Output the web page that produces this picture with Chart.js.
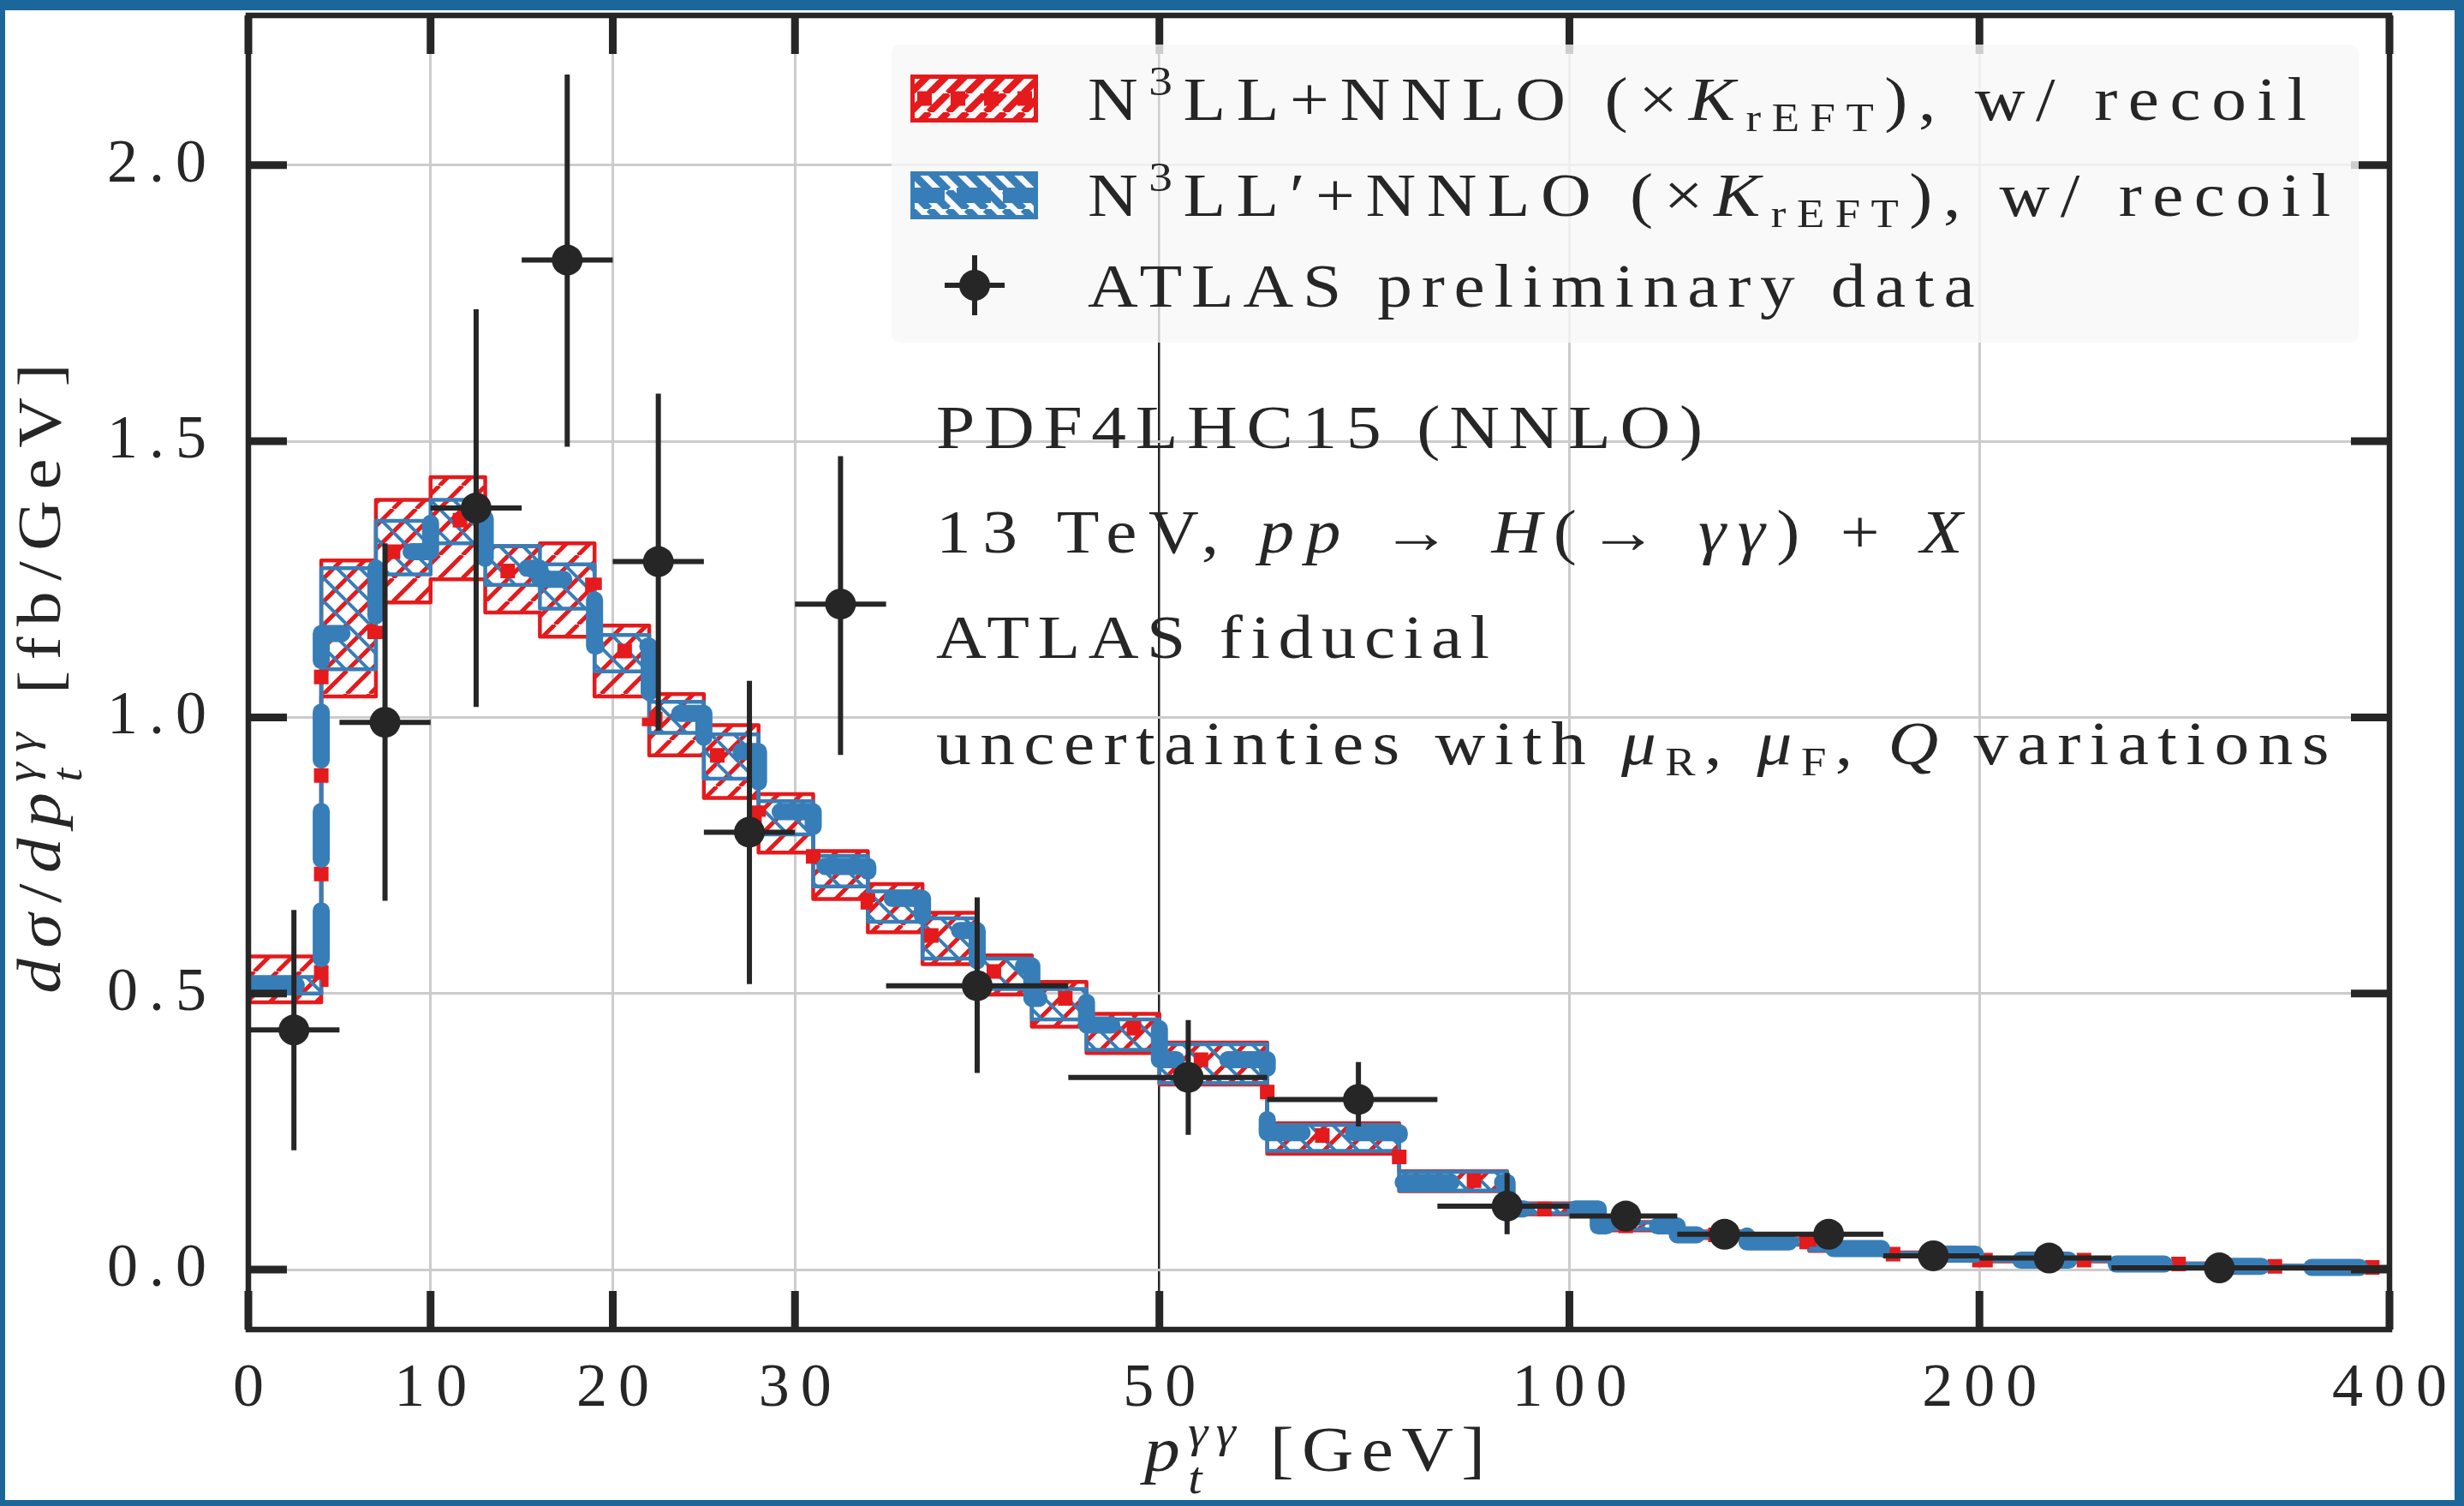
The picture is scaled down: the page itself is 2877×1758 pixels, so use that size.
<!DOCTYPE html>
<html>
<head>
<meta charset="utf-8">
<title>H to diphoton pT spectrum</title>
<script src="https://cdn.jsdelivr.net/npm/chart.js@4/dist/chart.umd.min.js"></script>
<style>
html, body { margin: 0; padding: 0; background: #fff; }
#page { position: relative; width: 2877px; height: 1758px; overflow: hidden;
        font-family: 'Liberation Serif', 'DejaVu Serif', serif; color: #262626; }
#chart { position: absolute; left: 0; top: 0; }
.txt { position: absolute; white-space: nowrap; line-height: 1.2; font-size: 72px; transform-origin: 0 0; }
.txt i { font-style: italic; }
.sup { font-size: 0.68em; vertical-align: 0.6em; }
.sub { font-size: 0.65em; vertical-align: -0.28em; }
.ss { display: inline-flex; flex-direction: column; font-size: 0.7em; line-height: 1.05; vertical-align: 0.55em; }
#legend { position: absolute; left: 1041px; top: 52px; width: 1713px; height: 348px;
          background: rgba(247, 247, 247, 0.8); border-radius: 10px; }
.swatch { position: absolute; }
#edge { position: absolute; left: 0; top: 0; width: 2877px; height: 1758px; box-sizing: border-box;
        border-style: solid; border-color: #1b679a; border-width: 12px 11px 7px 6px; pointer-events: none; }
</style>
</head>
<body>
<div id="page">
  <canvas id="chart" width="2877" height="1758"></canvas>

  <div id="legend"></div>
  <canvas class="swatch" id="sw-red" width="149" height="56" style="left:1063px;top:87px"></canvas>
  <canvas class="swatch" id="sw-blue" width="149" height="56" style="left:1063px;top:200px"></canvas>
  <canvas class="swatch" id="sw-data" width="90" height="90" style="left:1093px;top:288px"></canvas>
  <div class="txt" id="leg1">N<span class="sup">3</span>LL+NNLO (×<i>K</i><span class="sub">rEFT</span>), w/ recoil</div>
  <div class="txt" id="leg2">N<span class="sup">3</span>LL′+NNLO (×<i>K</i><span class="sub">rEFT</span>), w/ recoil</div>
  <div class="txt" id="leg3">ATLAS preliminary data</div>

  <div class="txt" id="ann1">PDF4LHC15 (NNLO)</div>
  <div class="txt" id="ann2">13 TeV, <i>pp</i> → <i>H</i>(→ <i>γγ</i>) + <i>X</i></div>
  <div class="txt" id="ann3">ATLAS fiducial</div>
  <div class="txt" id="ann4">uncertainties with <i>μ</i><span class="sub">R</span>, <i>μ</i><span class="sub">F</span>, <i>Q</i> variations</div>

  <div class="txt" id="xtitle" style="font-size:74px"><i>p</i><span class="ss"><i>γγ</i><i>t</i></span> [GeV]</div>
  <div class="txt" id="ytitle" style="transform-origin:50% 50%"><i>dσ</i>/<i>dp</i><span class="ss"><i>γγ</i><i>t</i></span> [fb/GeV]</div>

  <div id="edge"></div>
</div>

<script>
// axis ticks
const xTicks = [0, 10, 20, 30, 50, 100, 200, 400];
const yTicks = [0, 0.5, 1.0, 1.5, 2.0];

// theory histograms (bin edges in GeV, values in fb/GeV)
const binEdges = [0, 4, 7, 10, 13, 16, 19, 22, 25, 28, 31, 34, 37, 40, 43, 46, 50,
                  60, 75, 90, 105, 120, 135, 150, 170, 200, 250, 300, 350, 400];

const redLow     = [0.484, 1.038, 1.208, 1.250, 1.190, 1.146, 1.038, 0.931, 0.854, 0.755, 0.671, 0.611, 0.553, 0.498, 0.440, 0.392,
                    0.335, 0.210, 0.142, 0.100, 0.071, 0.057, 0.045, 0.034, 0.025, 0.015, 0.008, 0.005, 0.003];
const redHigh    = [0.567, 1.284, 1.394, 1.435, 1.310, 1.315, 1.166, 1.042, 0.986, 0.861, 0.758, 0.698, 0.646, 0.569, 0.521, 0.463,
                    0.411, 0.265, 0.178, 0.120, 0.086, 0.069, 0.055, 0.042, 0.031, 0.019, 0.011, 0.007, 0.005];
const redCentral = [0.525, 1.155, 1.300, 1.357, 1.265, 1.240, 1.120, 0.997, 0.931, 0.820, 0.726, 0.665, 0.605, 0.540, 0.491, 0.437,
                    0.380, 0.243, 0.161, 0.110, 0.079, 0.063, 0.050, 0.038, 0.028, 0.017, 0.010, 0.006, 0.004];

const blueLow     = [0.500, 1.087, 1.259, 1.315, 1.240, 1.197, 1.083, 0.972, 0.889, 0.788, 0.694, 0.630, 0.563, 0.508, 0.453, 0.398,
                     0.338, 0.215, 0.143, 0.102, 0.073, 0.058, 0.046, 0.035, 0.026, 0.016, 0.009, 0.005, 0.003];
const blueHigh    = [0.530, 1.270, 1.356, 1.394, 1.310, 1.277, 1.149, 1.028, 0.969, 0.848, 0.749, 0.685, 0.636, 0.563, 0.508, 0.453,
                     0.408, 0.262, 0.177, 0.118, 0.085, 0.068, 0.054, 0.041, 0.030, 0.018, 0.011, 0.007, 0.005];
const blueCentral = [0.515, 1.152, 1.300, 1.360, 1.270, 1.250, 1.129, 1.007, 0.938, 0.829, 0.730, 0.672, 0.614, 0.550, 0.491, 0.443,
                     0.380, 0.248, 0.158, 0.110, 0.079, 0.063, 0.050, 0.038, 0.028, 0.017, 0.010, 0.006, 0.004];

// ATLAS preliminary data
const atlasX     = [2.5, 7.5, 12.5, 17.5, 22.5, 27.5, 32.5, 40, 52.5, 70, 90, 110, 130, 155, 185, 225, 300];
const atlasFrom  = [0, 5, 10, 15, 20, 25, 30, 35, 45, 60, 80, 100, 120, 140, 170, 200, 250];
const atlasTo    = [5, 10, 15, 20, 25, 30, 35, 45, 60, 80, 100, 120, 140, 170, 200, 250, 400];
const atlasY     = [0.434, 0.991, 1.379, 1.828, 1.282, 0.792, 1.205, 0.514, 0.348, 0.308, 0.115, 0.097, 0.064, 0.064, 0.025, 0.021, 0.003];
const atlasYLow  = [0.216, 0.668, 1.019, 1.490, 0.976, 0.517, 0.932, 0.356, 0.244, 0.259, 0.064, 0.080, 0.050, 0.050, 0.015, 0.013, 0.000];
const atlasYHigh = [0.651, 1.315, 1.739, 2.164, 1.586, 1.066, 1.473, 0.674, 0.452, 0.376, 0.175, 0.115, 0.078, 0.078, 0.035, 0.029, 0.006];

const INK = '#262626';
const RED = '#e41a1c';
const BLUE = '#377eb8';
const GRID = '#cccccc';
const FONT = "'Liberation Serif', 'DejaVu Serif', serif";

// x axis is linear up to 50 GeV and logarithmic above
const LIN_END = 50, X_END = 400, LIN_SHARE = 1063.5 / 2499.5;
function toDecimal(v) {
    if (v <= LIN_END) return LIN_SHARE * v / LIN_END;
    return LIN_SHARE + (1 - LIN_SHARE) * Math.log(v / LIN_END) / Math.log(X_END / LIN_END);
}
function fromDecimal(d) {
    if (d <= LIN_SHARE) return d / LIN_SHARE * LIN_END;
    return LIN_END * Math.pow(X_END / LIN_END, (d - LIN_SHARE) / (1 - LIN_SHARE));
}

class SplitScale extends Chart.LinearScale {
    buildTicks() {
        this.start = this.min;
        this.end = this.max;
        return xTicks.map(v => ({ value: v }));
    }
    getPixelForValue(v) {
        return this.getPixelForDecimal(toDecimal(v));
    }
    getValueForPixel(p) {
        return fromDecimal(this.getDecimalForPixel(p));
    }
}
SplitScale.id = 'splitlin';
SplitScale.defaults = {};
Chart.register(SplitScale);

function hatch(color, dir, size, width) {
    const c = document.createElement('canvas');
    c.width = c.height = size;
    const g = c.getContext('2d');
    g.strokeStyle = color;
    g.lineWidth = width;
    g.beginPath();
    for (let k = -1; k <= 1; k++) {
        if (dir > 0) {  // '/'
            g.moveTo(k * size, size); g.lineTo(k * size + size, 0);
        } else {        // '\'
            g.moveTo(k * size, 0); g.lineTo(k * size + size, size);
        }
    }
    g.stroke();
    return g.createPattern(c, 'repeat');
}

// histogram as a stepped line: one point per left edge, plus the last right edge
function steps(values) {
    const pts = values.map((v, i) => ({ x: binEdges[i], y: v }));
    pts.push({ x: binEdges[binEdges.length - 1], y: values[values.length - 1] });
    return pts;
}

function errorBars() {
    const pts = [];
    atlasX.forEach((x, i) => {
        pts.push({ x: atlasFrom[i], y: atlasY[i] }, { x: atlasTo[i], y: atlasY[i] }, { x: atlasTo[i], y: null });
        pts.push({ x: x, y: atlasYLow[i] }, { x: x, y: atlasYHigh[i] }, { x: x, y: null });
    });
    return pts;
}

const bandLine = { borderWidth: 4.5, borderJoinStyle: 'round', pointRadius: 0, stepped: true };

// frame with inward ticks on all four sides
const frame = {
    id: 'frame',
    afterDatasetsDraw(chart) {
        const { ctx, chartArea: a, scales: { x, y } } = chart;
        ctx.save();
        ctx.strokeStyle = INK;
        ctx.lineWidth = 9;
        ctx.beginPath();
        xTicks.forEach(v => {
            const p = x.getPixelForValue(v);
            ctx.moveTo(p, a.bottom); ctx.lineTo(p, a.bottom - 45);
            ctx.moveTo(p, a.top); ctx.lineTo(p, a.top + 45);
        });
        yTicks.forEach(v => {
            const p = y.getPixelForValue(v);
            ctx.moveTo(a.left, p); ctx.lineTo(a.left + 45, p);
            ctx.moveTo(a.right, p); ctx.lineTo(a.right - 45, p);
        });
        ctx.stroke();
        ctx.lineWidth = 6.5;
        ctx.strokeRect(a.left, a.top, a.right - a.left, a.bottom - a.top);
        ctx.restore();
    }
};

// the tick labels in the picture are widely spaced
const spacing = {
    id: 'spacing',
    beforeDraw(chart) { chart.ctx.letterSpacing = '13px'; },
    afterDraw(chart) { chart.ctx.letterSpacing = '0px'; }
};

const ctx = document.getElementById('chart');
const chart = new Chart(ctx, {
    type: 'line',
    data: {
        datasets: [
            Object.assign({ data: steps(redLow), borderColor: RED, order: 5 }, bandLine),
            Object.assign({ data: steps(redHigh), borderColor: RED, order: 5, fill: '-1',
                            backgroundColor: hatch(RED, 1, 27, 5) }, bandLine),
            Object.assign({ data: steps(blueLow), borderColor: BLUE, order: 4 }, bandLine),
            Object.assign({ data: steps(blueHigh), borderColor: BLUE, order: 4, fill: '-1',
                            backgroundColor: hatch(BLUE, -1, 27, 4) }, bandLine),
            {
                data: steps(redCentral), stepped: true, order: 3,
                borderColor: RED, borderWidth: 17, borderDash: [17, 98], borderDashOffset: 30,
                borderCapStyle: 'butt', pointRadius: 0
            },
            {
                data: steps(blueCentral), stepped: true, order: 2,
                borderColor: BLUE, borderWidth: 20, borderDash: [56, 60],
                borderCapStyle: 'round', borderJoinStyle: 'round', pointRadius: 0
            },
            {
                data: errorBars(), order: 1,
                borderColor: INK, borderWidth: 6, pointRadius: 0, spanGaps: false
            },
            {
                data: atlasX.map((x, i) => ({ x: x, y: atlasY[i] })), order: 0,
                showLine: false, pointRadius: 18, pointBackgroundColor: INK, pointBorderWidth: 0
            }
        ]
    },
    plugins: [spacing, frame],
    options: {
        responsive: false,
        animation: false,
        devicePixelRatio: 1,
        layout: { padding: { top: 17, right: 87, left: 0, bottom: 0 } },
        plugins: {
            legend: { display: false },
            tooltip: { enabled: false }
        },
        scales: {
            x: {
                type: 'splitlin',
                min: 0,
                max: 400,
                border: { display: false },
                grid: {
                    drawTicks: false,
                    color: c => (c.tick && c.tick.value === 50) ? INK : GRID,
                    lineWidth: c => (c.tick && c.tick.value === 50) ? 2.5 : 3
                },
                ticks: {
                    autoSkip: false, maxRotation: 0, minRotation: 0,
                    padding: 27, labelOffset: 6.5, color: INK,
                    font: { family: FONT, size: 72 },
                    callback: v => String(v)
                },
                afterFit: s => { s.height = 206; s.paddingLeft = 0; s.paddingRight = 0; }
            },
            y: {
                min: -0.1085,
                max: 2.271,
                border: { display: false },
                grid: { drawTicks: false, color: GRID, lineWidth: 3 },
                afterBuildTicks: s => { s.ticks = yTicks.map(v => ({ value: v })); },
                ticks: {
                    padding: 36, color: INK,
                    font: { family: FONT, size: 72 },
                    callback: v => v.toFixed(1)
                },
                afterFit: s => { s.width = 290; s.paddingTop = 0; s.paddingBottom = 0; }
            }
        }
    }
});

// legend swatches
function drawSwatches() {
    let g = document.getElementById('sw-red').getContext('2d');
    g.fillStyle = hatch(RED, 1, 22, 8);
    g.fillRect(0, 0, 149, 56);
    g.strokeStyle = RED; g.lineWidth = 5;
    g.strokeRect(2.5, 2.5, 144, 51);
    g.lineWidth = 17; g.setLineDash([17, 22]);
    g.beginPath(); g.moveTo(8, 28); g.lineTo(149, 28); g.stroke();

    g = document.getElementById('sw-blue').getContext('2d');
    g.fillStyle = hatch(BLUE, -1, 22, 9);
    g.fillRect(0, 0, 149, 56);
    g.strokeStyle = BLUE; g.lineWidth = 5;
    g.strokeRect(2.5, 2.5, 144, 51);
    g.lineWidth = 18; g.setLineDash([40, 14]);
    g.beginPath(); g.moveTo(0, 28); g.lineTo(149, 28); g.stroke();

    g = document.getElementById('sw-data').getContext('2d');
    g.strokeStyle = INK; g.fillStyle = INK; g.lineWidth = 6;
    g.beginPath(); g.moveTo(10, 45); g.lineTo(80, 45); g.moveTo(45, 10); g.lineTo(45, 80); g.stroke();
    g.beginPath(); g.arc(45, 45, 18, 0, 2 * Math.PI); g.fill();
}
drawSwatches();

// the glyphs of the picture are wider than Liberation Serif: widen them a bit,
// then stretch the letter spacing so the text covers the same width
const STRETCH = 1.13;
function fitWidth(el, target, extra) {
    const n = el.textContent.length;
    let ls = 0;
    for (let k = 0; k < 3; k++) {
        el.style.letterSpacing = ls + 'px';
        const ink = (el.offsetWidth - ls) * STRETCH;
        ls += (target - ink) / STRETCH / (n - 1);
    }
    el.style.letterSpacing = ls + 'px';
    el.style.transform = (extra || '') + ' scaleX(' + STRETCH + ')';
}

function baselineOffset(el) {
    const probe = document.createElement('span');
    probe.style.cssText = 'display:inline-block;width:0;height:0';
    el.appendChild(probe);
    const off = probe.getBoundingClientRect().top - el.getBoundingClientRect().top;
    el.removeChild(probe);
    return off;
}

function place(id, left, baseline, width) {
    const el = document.getElementById(id);
    el.style.left = left + 'px';
    el.style.top = '0px';
    const off = baselineOffset(el);
    fitWidth(el, width);
    el.style.top = (baseline - off) + 'px';
}

function layoutText() {
    place('leg1', 1270, 140, 1423);
    place('leg2', 1270, 252, 1451);
    place('leg3', 1270, 358, 1036);
    place('ann1', 1093, 523, 895);
    place('ann2', 1093, 645, 1199);
    place('ann3', 1093, 768, 646);
    place('ann4', 1093, 892, 1627);
    place('xtitle', 1336, 1717, 398);

    // y title: rotated, baseline at x = 70, centred on y = 786
    const yt = document.getElementById('ytitle');
    const off = baselineOffset(yt);
    fitWidth(yt, 735, 'rotate(-90deg)');
    const w = yt.offsetWidth, h = yt.offsetHeight;
    const cx = 70 - off + h / 2;
    yt.style.left = (cx - w / 2) + 'px';
    yt.style.top = (786 - h / 2) + 'px';
}
document.fonts.ready.then(layoutText);
</script>
</body>
</html>
